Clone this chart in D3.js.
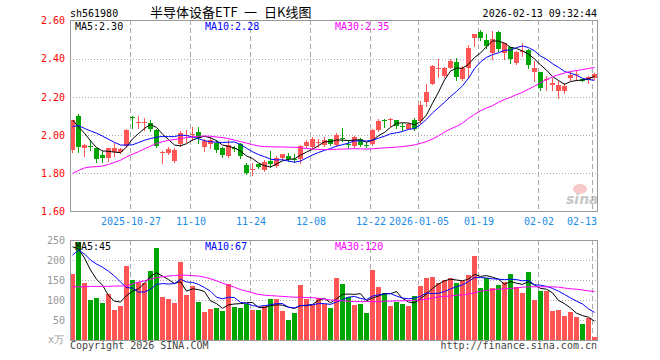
<!DOCTYPE html>
<html>
<head>
<meta charset="utf-8">
<script src="https://cdn.jsdelivr.net/npm/d3@7"></script>
<style>
body { margin: 0; background: #fff; }
svg { display: block; }
</style>
</head>
<body>
<svg></svg>
<script>
// trading days shown on the chart
const dates = ("2025-10-13 2025-10-14 2025-10-15 2025-10-16 2025-10-17 2025-10-20 2025-10-21 2025-10-22 2025-10-23 2025-10-24 " +
  "2025-10-27 2025-10-28 2025-10-29 2025-10-30 2025-10-31 2025-11-03 2025-11-04 2025-11-05 2025-11-06 2025-11-07 " +
  "2025-11-10 2025-11-11 2025-11-12 2025-11-13 2025-11-14 2025-11-17 2025-11-18 2025-11-19 2025-11-20 2025-11-21 " +
  "2025-11-24 2025-11-25 2025-11-26 2025-11-27 2025-11-28 2025-12-01 2025-12-02 2025-12-03 2025-12-04 2025-12-05 " +
  "2025-12-08 2025-12-09 2025-12-10 2025-12-11 2025-12-12 2025-12-15 2025-12-16 2025-12-17 2025-12-18 2025-12-19 " +
  "2025-12-22 2025-12-23 2025-12-24 2025-12-25 2025-12-26 2025-12-29 2025-12-30 2025-12-31 2026-01-05 2026-01-06 " +
  "2026-01-07 2026-01-08 2026-01-09 2026-01-12 2026-01-13 2026-01-14 2026-01-15 2026-01-16 2026-01-19 2026-01-20 " +
  "2026-01-21 2026-01-22 2026-01-23 2026-01-26 2026-01-27 2026-01-28 2026-01-29 2026-01-30 2026-02-02 2026-02-03 " +
  "2026-02-04 2026-02-05 2026-02-06 2026-02-09 2026-02-10 2026-02-11 2026-02-12 2026-02-13").split(" ");

const open = [1.92,2.10,1.93,1.945,1.93,1.895,1.88,1.912,1.912,1.945,
  2.095,2.065,2.066,2.063,2.028,1.91,1.906,1.867,1.952,1.998,
  2.005,2.017,1.94,1.955,1.96,1.93,1.888,1.935,1.955,1.845,
  1.82,1.847,1.818,1.866,1.84,1.879,1.89,1.875,1.875,1.945,
  1.937,1.962,1.95,1.977,1.948,1.983,1.953,1.944,1.982,1.95,
  1.955,2.028,2.077,2.079,2.077,2.05,2.032,2.08,2.072,2.172,
  2.27,2.35,2.308,2.352,2.382,2.294,2.352,2.507,2.539,2.497,
  2.431,2.539,2.431,2.462,2.375,2.437,2.448,2.329,2.329,2.29,
  2.264,2.229,2.229,2.299,2.315,2.294,2.291,2.299];
const high = [2.08,2.11,1.955,1.975,1.93,1.915,1.935,1.958,1.935,2.03,
  2.10,2.10,2.09,2.08,2.03,1.915,1.937,1.933,2.02,2.028,
  2.045,2.042,1.978,1.99,1.975,1.94,1.975,1.945,1.96,1.855,
  1.853,1.85,1.87,1.915,1.888,1.902,1.905,1.90,1.948,1.975,
  1.99,1.98,1.99,1.98,2.012,2.035,1.972,1.995,1.985,1.965,
  2.032,2.084,2.084,2.09,2.08,2.063,2.063,2.09,2.177,2.27,
  2.365,2.40,2.357,2.40,2.405,2.36,2.474,2.53,2.55,2.527,
  2.544,2.545,2.483,2.462,2.44,2.48,2.452,2.387,2.329,2.308,
  2.299,2.282,2.273,2.334,2.343,2.296,2.308,2.326];
const low = [1.91,1.91,1.89,1.92,1.86,1.857,1.865,1.888,1.905,1.94,
  2.036,2.035,2.025,2.02,1.937,1.852,1.90,1.86,1.944,1.966,
  1.975,1.958,1.918,1.93,1.914,1.885,1.885,1.915,1.878,1.797,
  1.79,1.828,1.81,1.835,1.832,1.876,1.866,1.857,1.855,1.94,
  1.935,1.94,1.945,1.948,1.944,1.968,1.932,1.935,1.945,1.94,
  1.95,2.023,2.045,2.05,2.037,2.028,2.03,2.028,2.063,2.15,
  2.265,2.305,2.305,2.35,2.287,2.29,2.299,2.466,2.50,2.457,
  2.396,2.44,2.396,2.378,2.37,2.413,2.352,2.282,2.235,2.235,
  2.238,2.194,2.221,2.291,2.291,2.282,2.273,2.294];
const close = [2.08,1.94,1.95,1.94,1.875,1.878,1.93,1.932,1.925,2.025,
  2.09,2.068,2.069,2.03,1.945,1.913,1.927,1.923,2.013,2.0,
  2.008,1.983,1.968,1.973,1.923,1.895,1.946,1.928,1.888,1.80,
  1.823,1.833,1.858,1.85,1.882,1.901,1.874,1.872,1.944,1.962,
  1.98,1.965,1.972,1.952,2.0,1.98,1.95,1.99,1.95,1.947,
  2.028,2.072,2.074,2.082,2.049,2.048,2.06,2.032,2.159,2.224,
  2.36,2.352,2.352,2.387,2.305,2.352,2.457,2.527,2.509,2.469,
  2.501,2.452,2.48,2.399,2.434,2.44,2.369,2.352,2.247,2.292,
  2.273,2.264,2.256,2.317,2.318,2.284,2.303,2.32];

// moving averages as drawn on the price panel
const ma5 = [2.08,2.042,2.01,1.97,1.935,1.917,1.915,1.911,1.908,1.938,
  1.98,2.008,2.035,2.056,2.04,2.005,1.977,1.948,1.944,1.955,
  1.974,1.985,1.994,1.986,1.971,1.948,1.941,1.933,1.916,1.891,
  1.877,1.854,1.84,1.833,1.849,1.865,1.873,1.876,1.895,1.911,
  1.926,1.945,1.965,1.966,1.974,1.974,1.971,1.974,1.974,1.963,
  1.973,1.997,2.014,2.041,2.061,2.065,2.063,2.054,2.07,2.105,
  2.167,2.225,2.289,2.335,2.351,2.35,2.371,2.406,2.43,2.463,
  2.493,2.492,2.482,2.46,2.453,2.441,2.424,2.399,2.368,2.34,
  2.307,2.286,2.266,2.28,2.286,2.288,2.296,2.308];
const ma10 = [2.045,2.05,2.035,2.022,2.01,1.995,1.978,1.962,1.948,1.948,
  1.949,1.961,1.973,1.982,1.989,1.993,1.992,1.992,2.0,1.998,
  1.99,1.981,1.971,1.965,1.963,1.961,1.963,1.964,1.951,1.931,
  1.913,1.898,1.887,1.874,1.87,1.871,1.864,1.858,1.864,1.88,
  1.896,1.909,1.92,1.93,1.942,1.95,1.958,1.97,1.97,1.969,
  1.973,1.984,1.994,2.007,2.012,2.019,2.03,2.034,2.055,2.083,
  2.116,2.144,2.172,2.202,2.228,2.258,2.298,2.348,2.383,2.407,
  2.421,2.431,2.444,2.445,2.458,2.467,2.458,2.441,2.414,2.397,
  2.374,2.355,2.333,2.324,2.313,2.297,2.291,2.287];
const ma30 = [1.80,1.815,1.828,1.833,1.835,1.838,1.846,1.858,1.868,1.886,
  1.90,1.913,1.928,1.942,1.956,1.966,1.972,1.977,1.982,1.987,
  1.99,1.994,1.995,1.994,1.99,1.987,1.981,1.974,1.966,1.958,
  1.95,1.943,1.94,1.939,1.938,1.938,1.937,1.936,1.934,1.93,
  1.927,1.925,1.924,1.924,1.926,1.927,1.928,1.929,1.928,1.927,
  1.928,1.931,1.933,1.935,1.937,1.94,1.944,1.949,1.957,1.966,
  1.98,1.996,2.016,2.032,2.046,2.063,2.088,2.108,2.127,2.142,
  2.154,2.172,2.186,2.198,2.212,2.224,2.24,2.256,2.275,2.29,
  2.305,2.316,2.325,2.333,2.338,2.343,2.349,2.354];

// volume, in 10k shares
const volume = [165,246,143,100,105,92,115,75,86,185,
  150,144,143,172,231,108,102,93,196,112,
  135,94,70,77,80,72,139,83,81,90,
  75,75,86,102,102,72,50,67,137,102,
  87,104,90,80,156,140,108,87,90,67,
  175,133,117,86,94,90,86,110,135,156,
  157,142,150,156,143,147,162,211,131,154,
  129,137,144,165,133,118,171,100,123,123,
  72,75,61,71,58,41,56,8];
const vma5 = [233,228,205,175,152,137,111,97,95,111,
  122,128,142,159,168,160,151,141,146,122,
  128,126,121,98,91,79,88,90,91,93,
  94,81,81,86,88,87,82,79,86,86,
  89,99,104,93,103,114,115,114,116,98,
  105,110,116,116,121,104,95,93,103,115,
  129,140,148,152,150,148,152,164,159,161,
  157,152,139,146,142,139,146,137,129,127,
  118,99,91,80,67,61,57,47];
const vma10 = [212,225,215,200,190,182,172,160,145,131,
  130,120,120,127,139,141,140,141,152,145,
  144,139,131,122,107,103,107,106,94,92,
  86,84,86,88,91,91,82,80,86,87,
  88,91,91,89,95,101,107,109,104,101,
  110,113,115,116,110,105,103,105,109,118,
  116,117,121,128,133,138,146,156,156,155,
  153,152,151,152,151,148,149,138,137,134,
  129,122,114,105,97,90,78,69];
const vma30 = [133,133,133,134,134,134,134,135,135,135,
  140,145,148,152,156,158,160,161,162,162,
  161,160,157,153,148,142,137,132,126,122,
  118,114,112,111,110,109,108,107,107,106,
  106,104,102,100,99,98,97,96,96,96,
  96,96,97,97,98,98,99,99,100,102,
  105,108,109,110,112,113,115,118,122,124,
  126,127,128,129,130,132,133,133,133,133,
  133,132,130,128,127,125,123,121];

const priceTicks = [1.6, 1.8, 2.0, 2.2, 2.4, 2.6];
const volTicks = [50, 100, 150, 200, 250];
const tickDates = ["2025-10-27","2025-11-10","2025-11-24","2025-12-08","2025-12-22","2026-01-05","2026-01-19","2026-02-02","2026-02-13"];
const tickLabels = ["2025-10-27","11-10","11-24","12-08","12-22","2026-01-05","01-19","02-02","02-13"];
const priceMaLabels = ["MA5:2.30", "MA10:2.28", "MA30:2.35"];
const volMaLabels = ["MA5:45", "MA10:67", "MA30:120"];

const width = 660, height = 360;
const left = 70, right = 598;
const mono = "'DejaVu Sans Mono', monospace";
const UP = "#ff5555", DOWN = "#00a600";
const maColors = ["#000000", "#0000ff", "#ff00ff"];

const svg = d3.select("svg").attr("width", width).attr("height", height);

const x = d3.scaleBand().domain(dates).range([left, right]).padding(0);
const y = d3.scaleLinear().domain([1.6, 2.6]).range([211.5, 20.5]);
const yv = d3.scaleLinear().domain([0, 250]).range([340, 240]);
const bw = x.bandwidth() - 1;
const cx = d => x(d) + bw / 2;
const px = v => Math.round(v);

// header
svg.append("text").attr("x", 70).attr("y", 17).attr("font-family", mono).attr("font-size", 10)
  .text("sh561980");
const title = svg.append("text").attr("y", 17).attr("font-family", "'Noto Sans CJK SC', sans-serif")
  .attr("font-size", 13).attr("fill", "#000");
title.append("tspan").attr("x", 150).text("半导体设备ETF");
title.append("tspan").attr("x", 244).text("一");
title.append("tspan").attr("x", 264).text("日K线图");
svg.append("text").attr("x", 597).attr("y", 17).attr("text-anchor", "end")
  .attr("font-family", mono).attr("font-size", 10).text("2026-02-13 09:32:44");

// grid: price panel
const grid = svg.append("g").attr("shape-rendering", "crispEdges");
grid.selectAll(".hp").data(priceTicks.slice(1, -1)).join("line")
  .attr("x1", left).attr("x2", right)
  .attr("y1", d => px(y(d)) + 0.5).attr("y2", d => px(y(d)) + 0.5)
  .attr("stroke", "#aaa").attr("stroke-dasharray", "1,2");
grid.selectAll(".hv").data(volTicks.slice(0, -1)).join("line")
  .attr("x1", left).attr("x2", right)
  .attr("y1", d => px(yv(d)) + 0.5).attr("y2", d => px(yv(d)) + 0.5)
  .attr("stroke", "#aaa").attr("stroke-dasharray", "1,2");
[[20, 212], [240, 341]].forEach(([a, b]) => {
  grid.append("g").selectAll("line").data(tickDates).join("line")
    .attr("x1", d => x(d) + 0.5).attr("x2", d => x(d) + 0.5)
    .attr("y1", a).attr("y2", b)
    .attr("stroke", "#aaa").attr("stroke-dasharray", "5,3");
});

// sina watermark
const wm = svg.append("g").attr("opacity", 0.55);
wm.append("ellipse").attr("cx", 580).attr("cy", 189).attr("rx", 7).attr("ry", 5).attr("fill", "#f2a0a0");
wm.append("text").attr("x", 566).attr("y", 204).attr("font-family", "'DejaVu Sans', sans-serif")
  .attr("font-size", 14).attr("font-style", "italic").attr("font-weight", "bold").attr("fill", "#999")
  .text("sina");

// candles
const idx = d3.range(dates.length);
const candle = svg.append("g").attr("shape-rendering", "crispEdges")
  .selectAll("g").data(idx).join("g");
const col = i => close[i] >= open[i] ? UP : DOWN;
candle.append("line")
  .attr("x1", i => x(dates[i]) + 2.5).attr("x2", i => x(dates[i]) + 2.5)
  .attr("y1", i => px(y(high[i]))).attr("y2", i => px(y(low[i])) + 1)
  .attr("stroke", col);
candle.append("rect")
  .attr("x", i => x(dates[i]))
  .attr("y", i => px(y(Math.max(open[i], close[i]))))
  .attr("width", bw)
  .attr("height", i => Math.max(1, px(y(Math.min(open[i], close[i]))) - px(y(Math.max(open[i], close[i])))))
  .attr("fill", col);

// volume bars
svg.append("g").attr("shape-rendering", "crispEdges")
  .selectAll("rect").data(idx).join("rect")
  .attr("x", i => x(dates[i]))
  .attr("y", i => px(yv(volume[i])))
  .attr("width", bw)
  .attr("height", i => 340 - px(yv(volume[i])))
  .attr("fill", col);

// moving average lines
const drawLine = (vals, scale, color) => {
  svg.append("path").datum(vals)
    .attr("fill", "none").attr("stroke", color).attr("stroke-width", 1)
    .attr("d", d3.line().x((v, i) => x(dates[i]) + 2.5).y(v => scale(v)));
};
[ma5, ma10, ma30].forEach((s, k) => drawLine(s, y, maColors[k]));
[vma5, vma10, vma30].forEach((s, k) => drawLine(s, yv, maColors[k]));

// frames
svg.append("rect").attr("x", 70.5).attr("y", 20.5).attr("width", 527).attr("height", 191)
  .attr("fill", "none").attr("stroke", "#999");
svg.append("rect").attr("x", 70.5).attr("y", 240.5).attr("width", 527).attr("height", 100)
  .attr("fill", "none").attr("stroke", "#999");

// axes
const yAxis = d3.axisLeft(y).tickValues(priceTicks).tickSize(0).tickPadding(0).tickFormat(d3.format(".2f"));
svg.append("g").attr("transform", "translate(65,0)").call(yAxis)
  .call(g => g.select(".domain").remove())
  .call(g => g.selectAll("text").attr("fill", "#ff0000").attr("font-family", mono).attr("font-size", 10));

const vAxis = d3.axisLeft(yv).tickValues(volTicks).tickSize(0).tickPadding(0);
svg.append("g").attr("transform", "translate(65,0)").call(vAxis)
  .call(g => g.select(".domain").remove())
  .call(g => g.selectAll("text").attr("fill", "#999").attr("font-family", mono).attr("font-size", 10));
svg.append("text").attr("x", 64).attr("y", 343).attr("text-anchor", "end")
  .attr("font-family", mono).attr("font-size", 10).attr("fill", "#999").text("x万");

svg.append("g").selectAll("text").data(tickDates).join("text")
  .attr("x", (d, i) => i === tickDates.length - 1 ? 597 : x(d) + 1)
  .attr("y", 225)
  .attr("text-anchor", (d, i) => i === tickDates.length - 1 ? "end" : "middle")
  .attr("font-family", mono).attr("font-size", 10).attr("fill", "#1a8ce8")
  .text((d, i) => tickLabels[i]);

// MA legends
const maX = [75, 205, 335];
svg.append("g").selectAll("text").data(priceMaLabels).join("text")
  .attr("x", (d, i) => maX[i]).attr("y", 30)
  .attr("font-family", mono).attr("font-size", 10).attr("fill", (d, i) => maColors[i])
  .text(d => d);
svg.append("g").selectAll("text").data(volMaLabels).join("text")
  .attr("x", (d, i) => maX[i]).attr("y", 250)
  .attr("font-family", mono).attr("font-size", 10).attr("fill", (d, i) => maColors[i])
  .text(d => d);

// footer
svg.append("text").attr("x", 70).attr("y", 349).attr("font-family", mono).attr("font-size", 10)
  .attr("fill", "#444").text("Copyright 2026 SINA.COM");
svg.append("text").attr("x", 597).attr("y", 349).attr("text-anchor", "end").attr("font-family", mono)
  .attr("font-size", 10).attr("fill", "#444").text("http://finance.sina.com.cn");
</script>
</body>
</html>
